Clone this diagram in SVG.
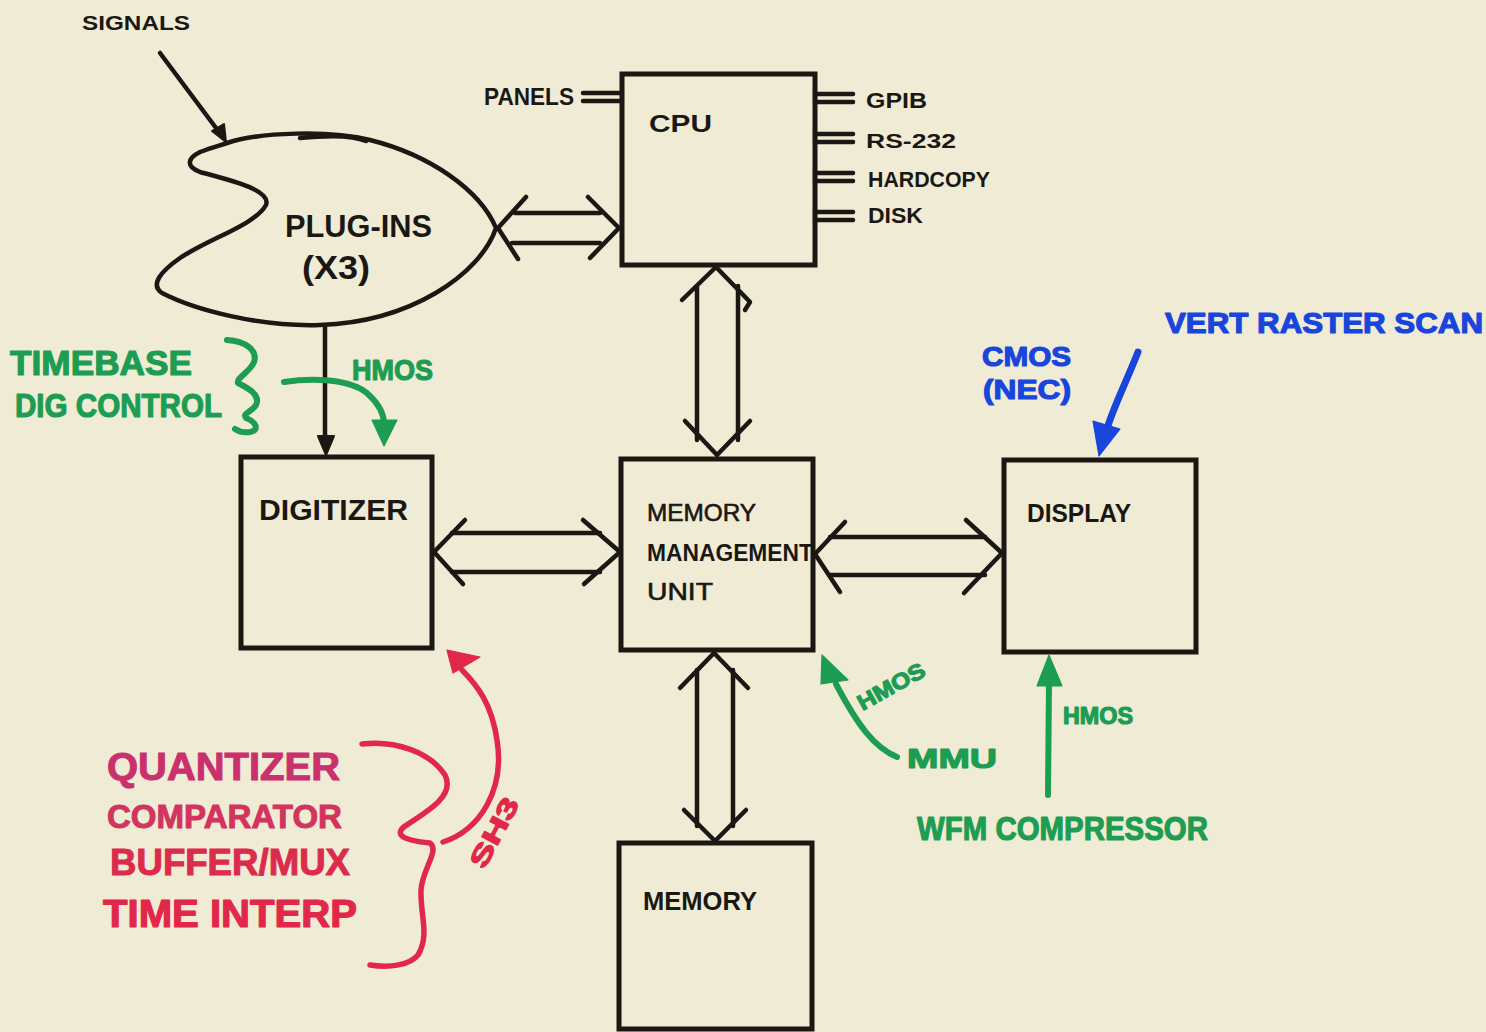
<svg xmlns="http://www.w3.org/2000/svg" width="1486" height="1032" viewBox="0 0 1486 1032">
  <style>
    .ink { fill: none; stroke: #1b1713; stroke-width: 4.5; stroke-linecap: round; stroke-linejoin: round; }
    .box { fill: none; stroke: #1b1713; stroke-width: 5; stroke-linejoin: miter; }
    .bus { fill: none; stroke: #1b1713; stroke-width: 4.5; stroke-linecap: round; stroke-linejoin: round; }
    .lbl { font-family: "Liberation Sans", "DejaVu Sans", sans-serif; font-weight: 700; fill: #1b1713; }
    .thin { font-weight: 400; stroke: #1b1713; stroke-width: 0.6; }
    .grn { fill: #1d9d52; stroke: #1d9d52; stroke-width: 1.2; stroke-linejoin: round; }
    .grnl { fill: none; stroke: #1d9d52; stroke-width: 6; stroke-linecap: round; stroke-linejoin: round; }
    .blu { fill: #1846dc; stroke: #1846dc; stroke-width: 1.2; stroke-linejoin: round; }
    .blul { fill: none; stroke: #1846dc; stroke-width: 7; stroke-linecap: round; }
    .red { fill: #e2284a; stroke: #e2284a; stroke-width: 1.2; stroke-linejoin: round; }
    .redl { fill: none; stroke: #e2284a; stroke-width: 5.5; stroke-linecap: round; stroke-linejoin: round; }
    .mk { font-family: "Liberation Sans", "DejaVu Sans", sans-serif; font-weight: 700; }
  </style>

  <!-- paper -->
  <rect x="0" y="0" width="1486" height="1032" fill="#f0ebd5"/>

  <!-- input signals -->
  <g id="signals">
    <text class="lbl" x="82" y="30" font-size="20" textLength="108" lengthAdjust="spacingAndGlyphs">SIGNALS</text>
    <line class="ink" x1="160" y1="53" x2="219" y2="132" stroke-width="3.5"/>
    <polygon points="226,142 212,131 224,124" fill="#1b1713" stroke="#1b1713" stroke-width="2" stroke-linejoin="round"/>
  </g>

  <!-- plug-in modules -->
  <g id="plugins">
    <path class="ink" d="M227,143 C260,132 330,130 370,140 C430,155 480,190 496,228 C480,275 410,322 320,325 C260,327 195,310 162,293 C150,285 160,272 180,258 C210,238 255,225 266,205 C272,190 230,180 200,172 C185,166 188,158 200,152 C210,148 218,146 227,143 Z"/>
    <path class="ink" d="M300,138 C330,135 355,136 366,141" stroke-width="3"/>
    <text class="lbl" x="285" y="237" font-size="31" textLength="147" lengthAdjust="spacingAndGlyphs">PLUG-INS</text>
    <text class="lbl" x="302" y="279" font-size="33" textLength="68" lengthAdjust="spacingAndGlyphs">(X3)</text>
  </g>

  <!-- CPU -->
  <g id="cpu">
    <rect class="box" x="622" y="74" width="193" height="191"/>
    <text class="lbl" x="649" y="132" font-size="24" textLength="63" lengthAdjust="spacingAndGlyphs">CPU</text>
    <!-- I/O ports -->
    <g class="ink" stroke-width="3.5">
      <line x1="583" y1="93" x2="622" y2="93"/><line x1="583" y1="101" x2="622" y2="101"/>
      <line x1="815" y1="94" x2="853" y2="94"/><line x1="815" y1="102" x2="853" y2="102"/>
      <line x1="815" y1="134" x2="853" y2="134"/><line x1="815" y1="142" x2="853" y2="142"/>
      <line x1="815" y1="173" x2="853" y2="173"/><line x1="815" y1="181" x2="853" y2="181"/>
      <line x1="815" y1="212" x2="853" y2="212"/><line x1="815" y1="220" x2="853" y2="220"/>
    </g>
    <text class="lbl" x="484" y="105" font-size="23" textLength="90" lengthAdjust="spacingAndGlyphs">PANELS</text>
    <text class="lbl" x="866" y="108" font-size="22" textLength="61" lengthAdjust="spacingAndGlyphs">GPIB</text>
    <text class="lbl" x="866" y="148" font-size="21" textLength="90" lengthAdjust="spacingAndGlyphs">RS-232</text>
    <text class="lbl" x="868" y="187" font-size="22" textLength="122" lengthAdjust="spacingAndGlyphs">HARDCOPY</text>
    <text class="lbl" x="868" y="223" font-size="22" textLength="55" lengthAdjust="spacingAndGlyphs">DISK</text>
  </g>

  <!-- digitizer -->
  <g id="digitizer">
    <rect class="box" x="241" y="457" width="191" height="191"/>
    <text class="lbl" x="259" y="520" font-size="29" textLength="149" lengthAdjust="spacingAndGlyphs">DIGITIZER</text>
  </g>

  <!-- memory management unit -->
  <g id="mmu">
    <rect class="box" x="621" y="459" width="192" height="191"/>
    <text class="lbl thin" x="647" y="521" font-size="24" textLength="109" lengthAdjust="spacingAndGlyphs">MEMORY</text>
    <text class="lbl" x="647" y="561" font-size="23" textLength="166" lengthAdjust="spacingAndGlyphs">MANAGEMENT</text>
    <text class="lbl thin" x="647" y="600" font-size="24" textLength="66" lengthAdjust="spacingAndGlyphs">UNIT</text>
  </g>

  <!-- display -->
  <g id="display">
    <rect class="box" x="1004" y="460" width="192" height="192"/>
    <text class="lbl" x="1027" y="522" font-size="26" textLength="104" lengthAdjust="spacingAndGlyphs">DISPLAY</text>
  </g>

  <!-- acquisition memory -->
  <g id="memory">
    <rect class="box" x="619" y="843" width="193" height="186"/>
    <text class="lbl" x="643" y="910" font-size="26" textLength="114" lengthAdjust="spacingAndGlyphs">MEMORY</text>
  </g>

  <!-- buses and signal flow -->
  <g id="connectors">
    <!-- plug-ins to digitizer -->
    <line class="ink" x1="325" y1="327" x2="325" y2="440" stroke-width="3.5"/>
    <polygon points="326,455 318,436 334,436" fill="#1b1713" stroke="#1b1713" stroke-width="2" stroke-linejoin="round"/>

    <!-- plug-ins <-> CPU -->
    <g class="bus">
      <line x1="515" y1="213" x2="600" y2="213"/><line x1="512" y1="243" x2="600" y2="243"/>
      <polyline points="526,197 498,228 518,259"/><polyline points="588,197 619,228 590,258"/>
    </g>
    <!-- CPU <-> MMU -->
    <g class="bus">
      <line x1="697" y1="286" x2="697" y2="440"/><line x1="738" y1="286" x2="738" y2="440"/>
      <polyline points="682,300 716,267 750,302 745,310"/><polyline points="685,421 717,455 750,421"/>
    </g>
    <!-- digitizer <-> MMU -->
    <g class="bus">
      <line x1="452" y1="533" x2="600" y2="533"/><line x1="452" y1="572" x2="600" y2="572"/>
      <polyline points="465,520 434,552 463,584"/><polyline points="583,520 620,552 584,584"/>
    </g>
    <!-- MMU <-> display -->
    <g class="bus">
      <line x1="830" y1="537" x2="985" y2="537"/><line x1="830" y1="575" x2="985" y2="575"/>
      <polyline points="845,522 815,554 840,592"/><polyline points="966,520 1002,553 964,593"/>
    </g>
    <!-- MMU <-> memory -->
    <g class="bus">
      <line x1="697" y1="670" x2="697" y2="826"/><line x1="733" y1="670" x2="733" y2="826"/>
      <polyline points="680,688 714,653 748,688"/><polyline points="684,810 715,841 746,810"/>
    </g>
  </g>

  <!-- timebase / digitizer control notes -->
  <g id="note-timebase">
    <text class="mk grn" x="10" y="375" font-size="35" textLength="182" lengthAdjust="spacingAndGlyphs">TIMEBASE</text>
    <text class="mk grn" x="15" y="417" font-size="34" textLength="207" lengthAdjust="spacingAndGlyphs">DIG CONTROL</text>
    <path class="grnl" d="M227,340 C245,341 258,350 254,362 C250,372 236,378 238,383 C248,388 261,395 256,405 C252,412 242,413 246,418 C256,422 260,430 250,432 C244,433 238,431 235,429"/>
    <path class="grnl" d="M284,382 C310,378 350,378 368,394 C379,404 384,414 384,424"/>
    <polygon class="grn" points="384,446 372,420 397,420" stroke-width="3"/>
    <text class="mk grn" x="352" y="380" font-size="30" textLength="81" lengthAdjust="spacingAndGlyphs">HMOS</text>
  </g>

  <!-- display technology notes -->
  <g id="note-display">
    <text class="mk blu" x="982" y="366" font-size="28" textLength="89" lengthAdjust="spacingAndGlyphs">CMOS</text>
    <text class="mk blu" x="983" y="399" font-size="28" textLength="88" lengthAdjust="spacingAndGlyphs">(NEC)</text>
    <text class="mk blu" x="1165" y="333" font-size="30" textLength="318" lengthAdjust="spacingAndGlyphs">VERT RASTER SCAN</text>
    <path class="blul" d="M1138,352 C1125,385 1112,410 1106,432"/>
    <polygon class="blu" points="1099,456 1093,421 1120,429" stroke-width="3"/>
  </g>

  <!-- MMU technology note -->
  <g id="note-mmu">
    <path class="grnl" d="M897,757 C875,748 858,726 836,684"/>
    <polygon class="grn" points="822,655 821,684 848,680" stroke-width="3"/>
    <text class="mk grn" x="891" y="694" font-size="22" text-anchor="middle" textLength="74" lengthAdjust="spacingAndGlyphs" transform="rotate(-29 891 686)">HMOS</text>
    <text class="mk grn" x="907" y="768" font-size="28" textLength="90" lengthAdjust="spacingAndGlyphs">MMU</text>
  </g>

  <!-- waveform compressor note -->
  <g id="note-wfm">
    <line class="grnl" x1="1048" y1="795" x2="1049" y2="682"/>
    <polygon class="grn" points="1049,655 1037,686 1062,686" stroke-width="3"/>
    <text class="mk grn" x="1063" y="724" font-size="23" textLength="70" lengthAdjust="spacingAndGlyphs">HMOS</text>
    <text class="mk grn" x="917" y="840" font-size="34" textLength="291" lengthAdjust="spacingAndGlyphs">WFM COMPRESSOR</text>
  </g>

  <!-- digitizer parts note -->
  <g id="note-digitizer">
    <text class="mk" x="107" y="780" font-size="38" textLength="233" lengthAdjust="spacingAndGlyphs" fill="#c9306c" stroke="#c9306c" stroke-width="1">QUANTIZER</text>
    <text class="mk" x="107" y="828" font-size="33" textLength="235" lengthAdjust="spacingAndGlyphs" fill="#d2345f" stroke="#d2345f" stroke-width="1">COMPARATOR</text>
    <text class="mk" x="110" y="875" font-size="36" textLength="240" lengthAdjust="spacingAndGlyphs" fill="#dc2b4c" stroke="#dc2b4c" stroke-width="1">BUFFER/MUX</text>
    <text class="mk red" x="103" y="927" font-size="38" textLength="254" lengthAdjust="spacingAndGlyphs">TIME INTERP</text>
    <path class="redl" d="M362,744 C395,740 430,752 445,775 C455,795 430,810 405,826 C395,834 400,840 430,843 C440,850 422,870 421,890 C420,915 430,935 418,955 C410,965 390,968 370,965"/>
    <path class="redl" d="M443,842 C480,830 505,790 497,740 C492,705 478,686 462,670"/>
    <polygon class="red" points="447,650 480,657 453,673" stroke-width="4"/>
    <text class="mk red" x="495" y="841" font-size="26" text-anchor="middle" textLength="76" lengthAdjust="spacingAndGlyphs" transform="rotate(-62 495 833)">SH3</text>
  </g>
</svg>
